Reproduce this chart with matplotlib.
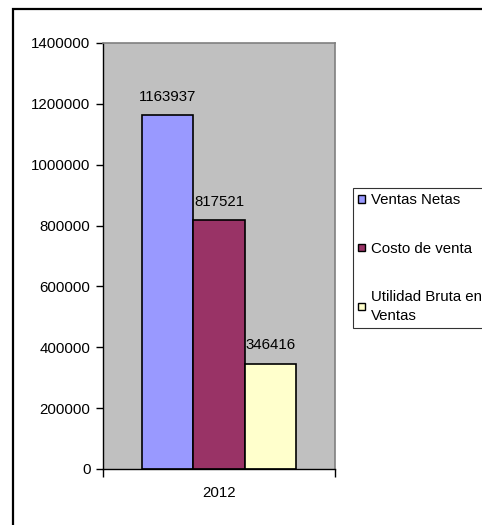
import matplotlib
matplotlib.use('Agg')
import matplotlib.pyplot as plt
from matplotlib.patches import Rectangle

# data
category = '2012'
series = ['Ventas Netas', 'Costo de venta', 'Utilidad Bruta en\nVentas']
values = [1163937, 817521, 346416]
colors = ['#9999FF', '#993366', '#FFFFCC']
yticks = [0, 200000, 400000, 600000, 800000, 1000000, 1200000, 1400000]

plt.rcParams['font.family'] = ['Liberation Sans', 'DejaVu Sans']
fs = 10.8
plt.rcParams['font.size'] = fs

fig = plt.figure(figsize=(4.82, 5.25), dpi=100)
fig.patch.set_facecolor('white')

# outer chart border (cut off on right and bottom like the reference)
fig.patches.append(Rectangle((13 / 482, -0.05), 1.2, 1 - 9 / 525 + 0.05,
                             transform=fig.transFigure, fill=False,
                             edgecolor='black', linewidth=1.6))

ax = fig.add_axes([103 / 482, 56 / 525, 232 / 482, 426 / 525])
ax.set_facecolor('#C0C0C0')

width = 0.222
offsets = [(i - 1) * width for i in range(len(values))]
for off, v, c, s in zip(offsets, values, colors, series):
    bars = ax.bar(off, v, width=width, color=c, edgecolor='black',
                  linewidth=1.2, label=s)
    ax.bar_label(bars, labels=[str(v)], padding=8, fontsize=fs)

ax.set_xlim(-0.5, 0.5)
ax.set_ylim(0, 1400000)
ax.set_yticks(yticks)
ax.set_yticklabels([str(t) for t in yticks])
ax.tick_params(axis='y', direction='out', length=5, width=1, pad=4)

ax.set_xticks([-0.5, 0.5])
ax.set_xticklabels(['', ''])
ax.set_xticks([0], minor=True)
ax.set_xticklabels([category], minor=True)
ax.tick_params(axis='x', which='major', direction='out', length=6, width=1)
ax.tick_params(axis='x', which='minor', length=0, pad=12)

for side in ['top', 'right']:
    ax.spines[side].set_color('#808080')
    ax.spines[side].set_linewidth(1.2)
for side in ['left', 'bottom']:
    ax.spines[side].set_color('black')
    ax.spines[side].set_linewidth(1)

leg = fig.legend(loc='upper left', bbox_to_anchor=(353 / 482, 1 - 188 / 525),
                 fancybox=False, frameon=True, edgecolor='black',
                 handlelength=0.42, handleheight=0.42, handletextpad=0.45,
                 labelspacing=2.3, borderpad=0.35, borderaxespad=0,
                 fontsize=fs)
leg.get_frame().set_linewidth(0.8)
for h in leg.legend_handles:
    h.set_linewidth(1.0)
for t in leg.get_texts():
    t.set_linespacing(1.4)

fig.savefig('out.png', dpi=100)
